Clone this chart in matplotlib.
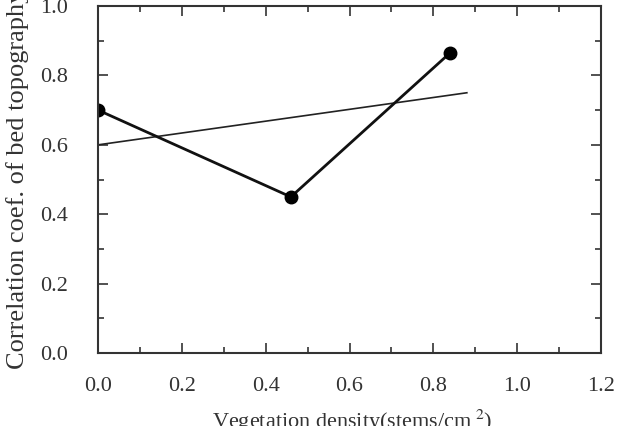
import matplotlib
matplotlib.use('Agg')
import matplotlib.pyplot as plt
from matplotlib.ticker import MultipleLocator

# data
density = [0.0, 0.46, 0.84]
corr = [0.70, 0.45, 0.865]
trend_x = [0.0, 0.88]
trend_y = [0.60, 0.75]

plt.rcParams['font.family'] = ['Liberation Serif', 'DejaVu Serif']
plt.rcParams['mathtext.fontset'] = 'stix'

fig = plt.figure(figsize=(6.17, 4.26), dpi=100)
ax = fig.add_axes([0.159, 0.171, 0.815, 0.815])

ax.plot(trend_x, trend_y, color='#222222', lw=1.2)
ax.plot(density, corr, color='#111111', lw=2.0, marker='o', ms=9, mfc='black', mec='black')

ax.set_xlim(0, 1.2)
ax.set_ylim(0, 1.0)
ax.xaxis.set_major_locator(MultipleLocator(0.2))
ax.xaxis.set_minor_locator(MultipleLocator(0.1))
ax.yaxis.set_major_locator(MultipleLocator(0.2))
ax.yaxis.set_minor_locator(MultipleLocator(0.1))
ax.tick_params(which='both', direction='in', top=True, right=True, color='#333333', width=1.2,
               labelsize=16, labelcolor='#333333')
ax.tick_params(axis='x', pad=17)
ax.tick_params(axis='y', pad=22)
ax.tick_params(which='major', length=7)
ax.tick_params(which='minor', length=4)
ax.set_xticklabels([f'{v:.1f}' for v in ax.get_xticks()])
ax.set_yticklabels([f'{v:.1f}' for v in ax.get_yticks()])
for s in ax.spines.values():
    s.set_linewidth(1.5)
    s.set_color('#333333')

ax.set_xlabel('Vegetation density(stems/cm$^{\\ 2}$)', fontsize=16, color='#333333', va='top')
ax.xaxis.set_label_coords(0.505, -0.158)
ax.set_ylabel('Correlation coef. of bed topography', fontsize=19, color='#333333')
ax.yaxis.set_label_coords(-0.137, 0.5)

fig.savefig('out.png', dpi=100)
